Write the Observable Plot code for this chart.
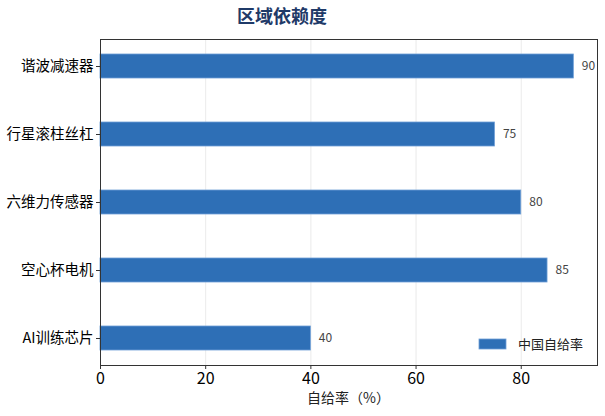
<!DOCTYPE html>
<html>
<head>
<meta charset="utf-8">
<script src="https://cdn.jsdelivr.net/npm/d3@7"></script>
<script src="https://cdn.jsdelivr.net/npm/@observablehq/plot@0.6"></script>
<style>
  body { margin: 0; background: #fff; }
  #chart { width: 605px; height: 416px; }
</style>
</head>
<body>
<div id="chart"></div>
<script>
const categories = ["谐波减速器", "行星滚柱丝杠", "六维力传感器", "空心杯电机", "AI训练芯片"];
const values = [90, 75, 80, 85, 40];
const xTicks = [0, 20, 40, 60, 80];
const titleText = "区域依赖度";
const xLabel = "自给率（%）";
const seriesName = "中国自给率";

const data = categories.map((c, i) => ({category: c, value: values[i]}));
const font = "'Noto Sans CJK SC', 'Noto Sans', sans-serif";
const barColor = "#2e6fb6";

const W = 605, H = 416;
const mL = 100, mR = 8, mT = 39, mB = 51;

const plot = Plot.plot({
  width: W,
  height: H,
  marginLeft: mL,
  marginRight: mR,
  marginTop: mT,
  marginBottom: mB,
  style: {fontFamily: font, background: "#fff", overflow: "visible"},
  x: {domain: [0, 94.5], ticks: xTicks, label: null},
  y: {domain: categories, paddingInner: 0.65, paddingOuter: 0.2175, label: null},
  marks: [
    Plot.gridX(xTicks, {stroke: "#d9d9d9", strokeOpacity: 0.7, strokeWidth: 0.8}),
    Plot.barX(data, {x: "value", y: "category", fill: barColor, stroke: "#6e9fd6", strokeWidth: 0.8}),
    Plot.text(data, {x: "value", y: "category", text: d => String(d.value), dx: 8, textAnchor: "start", fill: "#444", fontSize: 12}),
    Plot.axisX(xTicks, {tickSize: 4, tickPadding: 3, fontSize: 16, fill: "#000", stroke: "#333", label: null}),
    Plot.axisY({tickSize: 4, tickPadding: 3, fontSize: 14.5, fill: "#000", stroke: "#333", label: null}),
    Plot.frame({stroke: "#333", strokeWidth: 1})
  ]
});

document.getElementById("chart").appendChild(plot);

const svg = d3.select(plot);
svg.append("text")
  .attr("x", 282).attr("y", 23)
  .attr("text-anchor", "middle")
  .attr("font-family", font)
  .attr("font-size", 18)
  .attr("font-weight", "bold")
  .attr("fill", "#1f3a68")
  .text(titleText);

svg.append("text")
  .attr("x", mL + (W - mL - mR) / 2).attr("y", 403)
  .attr("text-anchor", "middle")
  .attr("font-family", font)
  .attr("font-size", 14)
  .attr("fill", "#222")
  .text(xLabel);

const lg = svg.append("g");
lg.append("rect")
  .attr("x", 479).attr("y", 339).attr("width", 27).attr("height", 10)
  .attr("fill", barColor).attr("stroke", "#6e9fd6").attr("stroke-width", 0.8);
lg.append("text")
  .attr("x", 518).attr("y", 349)
  .attr("text-anchor", "start")
  .attr("font-family", font)
  .attr("font-size", 13)
  .attr("fill", "#222")
  .text(seriesName);
</script>
</body>
</html>
